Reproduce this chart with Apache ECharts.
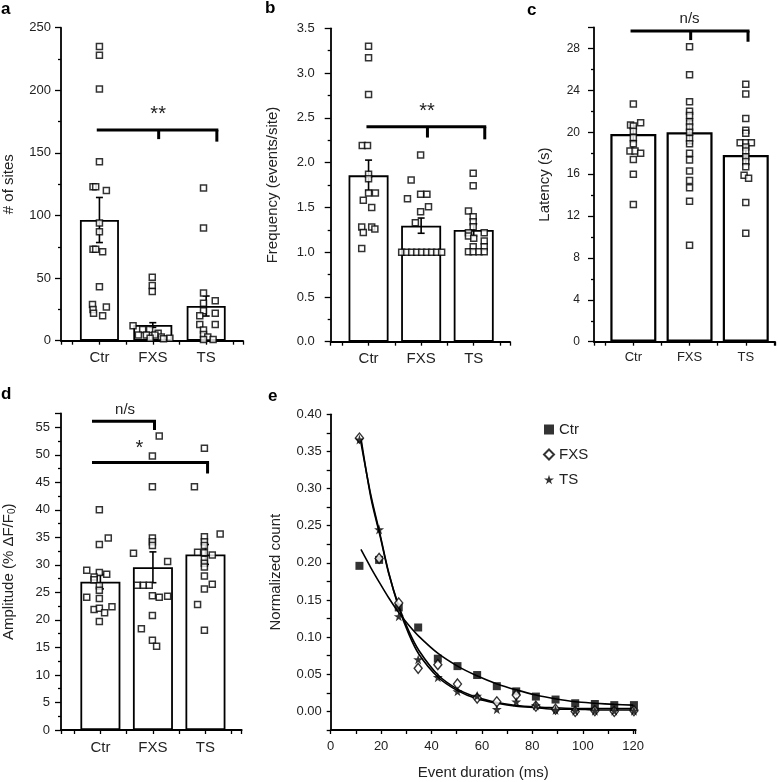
<!DOCTYPE html>
<html><head><meta charset="utf-8">
<script src="https://cdn.jsdelivr.net/npm/echarts/dist/echarts.min.js"></script>
<style>html,body{margin:0;padding:0;background:#fff}#c{width:778px;height:782px}</style>
</head><body><div id="c"></div>
<script>
// ---------- data ----------
const groups = ['Ctr', 'FXS', 'TS'];

// panel a: # of sites
const sitesMean = [96.4, 12.5, 27.7];
const sitesSem = [18, 1.9, 8];
const sitesCtr = [[1,235],[1,228],[1,201],[1,143],[0.88,123],[0.93,123],[1.13,120],[1,94],[1,87],[0.88,73],[0.93,73],[1.06,71],[1,43],[0.87,29],[0.88,25],[1.13,27],[0.89,22],[1.06,20]];
const sitesFxs = [[1.99,50.6],[1.99,44],[1.99,39.2],[1.63,12],[1.81,9],[1.94,9],[2.1,6],[1.73,4.5],[1.88,4.5],[2.04,4.5],[2.16,3],[2.32,2],[1.95,2],[2.2,1.5]];
const sitesTs = [[2.95,122],[2.95,90],[2.95,38],[2.95,30],[3.17,32],[2.95,24],[2.88,20],[3.17,22],[2.88,13],[3.17,13],[2.95,8.5],[2.95,5],[3.03,3],[3.13,1],[2.95,1]];

// panel b: frequency
const freqMean = [1.858, 1.296, 1.247];
const freqSem = [0.17, 0.085, 0.07];
const freqCtr = [[1,3.3],[1,3.17],[1,2.76],[0.88,2.19],[0.98,2.19],[1,1.87],[1,1.82],[1,1.66],[1.13,1.66],[0.9,1.58],[1.06,1.5],[0.87,1.28],[1.06,1.28],[1.12,1.26],[0.9,1.22],[0.87,1.04]];
const freqFxs = [[1.99,2.085],[1.81,1.806],[1.74,1.597],[1.99,1.646],[2.11,1.646],[2.14,1.508],[1.99,1.452],[1.89,1.329],[1.63,1],[1.725,1],[1.82,1],[1.915,1],[2.01,1],[2.105,1],[2.2,1],[2.295,1],[2.39,1]];
const freqTs = [[2.99,1.88],[2.99,1.742],[2.9,1.46],[2.99,1.396],[2.99,1.34],[2.99,1.284],[2.9,1.217],[3.2,1.217],[2.9,1.18],[3.0,1.155],[3.2,1.125],[2.99,1.06],[3.2,1.06],[2.9,1.005],[2.99,1.005],[3.1,1.005],[3.2,1.005]];

// panel c: latency
const latMean = [19.83, 20.0, 17.82];
const latSem = [0.75, 1.1, 0.9];
const latCtr = [[1,22.7],[0.95,20.7],[1.13,20.9],[1,20.6],[1,20.1],[1,19.5],[1,18.9],[0.94,18.2],[1.03,18.2],[1.13,18.0],[1,17.4],[1,16.0],[1,13.1]];
const latFxs = [[2,28.16],[2,25.5],[2,22.9],[2,22.0],[2,21.6],[2,21.0],[2,20.5],[2,20.0],[2,19.4],[2,18.9],[2,18.0],[2,17.35],[2,16.3],[2,15.4],[2,14.7],[2,13.4],[2,9.2]];
const latTs = [[3,24.57],[3,23.65],[3,21.3],[3,20.2],[3,19.9],[2.9,19.0],[3,19.0],[3.1,19.0],[3,18.6],[3,18.2],[3,17.66],[3,17.2],[3,16.7],[2.97,15.9],[3.05,15.6],[3,13.3],[3,10.35]];

// panel d: amplitude
const ampMean = [26.94, 29.56, 31.9];
const ampSem = [1.3, 2.8, 1.8];
const ampCtr = [[0.98,40],[1.15,34.9],[0.98,33.7],[0.74,29],[0.98,28.6],[1.12,28.3],[0.88,27.8],[0.88,27.3],[0.98,26.2],[0.98,25.4],[0.74,24.1],[0.98,23.9],[0.88,21.9],[0.98,22.1],[1.08,21.3],[1.22,22.4],[0.98,19.7]];
const ampFxs = [[2.12,53.4],[1.99,49.8],[1.99,44.2],[1.99,34.9],[1.99,34.2],[1.99,33.5],[1.63,32.1],[2.28,30.6],[1.70,26.3],[1.82,26.3],[1.93,26.3],[1.99,24.4],[2.12,24.1],[2.28,24.3],[1.99,20.8],[1.78,18.4],[1.99,16.3],[2.07,15.2]];
const ampTs = [[2.98,51.2],[2.79,44.2],[3.28,35.6],[2.98,35.1],[2.98,34.2],[2.98,33.5],[2.85,32.3],[2.98,32.2],[3.13,31.8],[2.98,31.0],[2.98,30.3],[2.98,29.6],[2.98,28.0],[3.13,26.5],[2.98,25.6],[2.85,22.8],[2.98,18.1]];

// significance brackets (data units)
const bracketsA = [{y:168.3, from:0.95, to:3.2, drops:[[2.11,161],[3.2,159]], text:'**', tx:2.1, ty:180.5, fs:20}];
const bracketsB = [{y:2.40, from:0.96, to:3.21, drops:[[2.12,2.28],[3.21,2.26]], text:'**', tx:2.11, ty:2.57, fs:20}];
const bracketsC = [{y:29.66, from:0.95, to:3.04, drops:[[2.02,28.8],[3.04,28.64]], text:'n/s', tx:2.0, ty:30.85, fs:15}];
const bracketsD = [
  {y:56.1, from:0.84, to:2.03, drops:[[2.03,54.5]], text:'n/s', tx:1.47, ty:58.2, fs:15},
  {y:48.6, from:0.84, to:3.04, drops:[[3.04,46.6]], text:'*', tx:1.74, ty:51.2, fs:20}
];

// panel e: event duration histogram
const durBins = [11.4,19.2,27,34.7,42.5,50.3,58.1,65.9,73.6,81.4,89.2,97,104.8,112.5,120.3];
const durCtr = [0.196,0.204,0.140,0.113,0.071,0.061,0.049,0.034,0.027,0.020,0.016,0.011,0.010,0.0085,0.0085];
const durFxs = [0.368,0.206,0.146,0.058,0.063,0.037,0.018,0.013,0.022,0.007,0.003,0.000,0.001,0.000,0.001];
const durTs = [0.366,0.245,0.128,0.070,0.046,0.027,0.021,0.003,0.013,0.008,0.002,0.001,0.001,0.001,0.001];
const fitX = [12,16,19.6,23,27,31,35,42.6,50.3,58,66,73.6,81.4,89,97,105,112.5,120];
const fitCtr = [0.218,0.193,0.172,0.153,0.133,0.116,0.101,0.078,0.061,0.048,0.037,0.029,0.022,0.017,0.013,0.011,0.0095,0.0085];
const fitFxs = [0.368,0.287,0.236,0.186,0.142,0.108,0.082,0.049,0.030,0.019,0.012,0.008,0.006,0.005,0.004,0.004,0.004,0.004];
const fitTs = [0.362,0.290,0.238,0.187,0.140,0.104,0.077,0.046,0.028,0.017,0.011,0.007,0.005,0.003,0.003,0.002,0.002,0.002];

// ---------- helpers ----------
const FONT = 'Liberation Sans';
const TXT = '#222';
const AXW = 1.8;
const STAR = 'path://M50,0 L61,35 L98,35 L68,57 L79,91 L50,70 L21,91 L32,57 L2,35 L39,35 Z';

function near(v, step) { const k = v / step; return Math.abs(k - Math.round(k)) < 1e-6; }

function xCat(grid, min, max, fontSize, margin) {
  return {
    type: 'value', gridIndex: grid, min: min, max: max,
    axisLine: {show: true, onZero: false, lineStyle: {color: '#000', width: AXW}},
    axisTick: {show: true, length: 4, lineStyle: {color: '#000', width: 1.3}},
    splitLine: {show: false},
    axisLabel: {fontFamily: FONT, fontSize: fontSize, color: TXT, margin: margin,
      formatter: function (v) { const r = Math.round(v); return (Math.abs(v - r) < 1e-6 && r >= 1 && r <= 3) ? groups[r - 1] : ''; }}
  };
}
function yVal(grid, max, interval, fontSize, margin, name, nameGap, fmt, extra) {
  const o = {
    type: 'value', gridIndex: grid, min: 0, max: max, interval: interval,
    name: name, nameLocation: 'middle', nameGap: nameGap,
    nameTextStyle: {fontFamily: FONT, fontSize: 15, color: TXT},
    axisLine: {show: true, onZero: false, lineStyle: {color: '#000', width: AXW}},
    axisTick: {show: true, length: 6, lineStyle: {color: '#000', width: 1.3}},
    minorTick: {show: true, splitNumber: 2, length: 3, lineStyle: {color: '#000', width: 1.3}},
    splitLine: {show: false},
    axisLabel: {fontFamily: FONT, fontSize: fontSize, color: TXT, margin: margin, formatter: fmt}
  };
  return Object.assign(o, extra || {});
}
function bars(i, means, bw, lw) {
  return {type: 'bar', xAxisIndex: i, yAxisIndex: i, silent: true, z: 1,
    data: means.map(function (m, k) { return [k + 1, m]; }), barWidth: bw,
    itemStyle: {color: '#fff', borderColor: '#000', borderWidth: lw}};
}
function errs(i, means, sems) {
  return {type: 'custom', xAxisIndex: i, yAxisIndex: i, silent: true, z: 2, clip: false,
    data: means.map(function (m, k) { return [k + 1, m, sems[k]]; }),
    renderItem: function (params, api) {
      const x = api.value(0), m = api.value(1), s = api.value(2);
      const t = api.coord([x, m + s]), b = api.coord([x, m - s]);
      const hw = 3.5, st = {stroke: '#000', lineWidth: 1.6};
      return {type: 'group', children: [
        {type: 'line', shape: {x1: t[0], y1: t[1], x2: b[0], y2: b[1]}, style: st},
        {type: 'line', shape: {x1: t[0] - hw, y1: t[1], x2: t[0] + hw, y2: t[1]}, style: st},
        {type: 'line', shape: {x1: b[0] - hw, y1: b[1], x2: b[0] + hw, y2: b[1]}, style: st}
      ]};
    }};
}
function pts(i, data, size) {
  return {type: 'scatter', xAxisIndex: i, yAxisIndex: i, silent: true, z: 3, data: data,
    symbol: 'rect', symbolSize: size || 6,
    itemStyle: {color: '#fff', borderColor: '#000', borderWidth: 1.5}};
}
function brackets(i, list) {
  return {type: 'custom', xAxisIndex: i, yAxisIndex: i, silent: true, z: 5, clip: false,
    data: list.map(function (b, k) { return [k]; }),
    renderItem: function (params, api) {
      const b = list[params.dataIndex];
      const st = {stroke: '#000', lineWidth: 3};
      const l = api.coord([b.from, b.y]), r = api.coord([b.to, b.y]);
      const ch = [{type: 'line', shape: {x1: l[0], y1: l[1], x2: r[0] + 1.5, y2: r[1]}, style: st}];
      b.drops.forEach(function (d) {
        const p = api.coord([d[0], b.y]), q = api.coord([d[0], d[1]]);
        ch.push({type: 'line', shape: {x1: p[0], y1: p[1], x2: q[0], y2: q[1]}, style: st});
      });
      const tp = api.coord([b.tx, b.ty]);
      ch.push({type: 'text', x: tp[0], y: tp[1], style: {text: b.text, fontFamily: FONT, fontSize: b.fs, fill: TXT, align: 'center', verticalAlign: 'middle'}});
      return {type: 'group', children: ch};
    }};
}
function zip(xs, ys) { return xs.map(function (x, k) { return [x, ys[k]]; }); }

// ---------- chart ----------
const chart = echarts.init(document.getElementById('c'), null, {renderer: 'canvas'});
const option = {
  animation: false,
  backgroundColor: '#fff',
  grid: [
    {left: 61, top: 27.7, width: 182, height: 313},
    {left: 330.7, top: 28.3, width: 179.3, height: 313.4},
    {left: 594, top: 27.5, width: 183, height: 314.2},
    {left: 61, top: 413.5, width: 180.7, height: 316.5},
    {left: 330.7, top: 414.3, width: 305, height: 315.7}
  ],
  xAxis: [
    xCat(0, 0.28, 3.69, 15, 10),
    xCat(1, 0.28, 3.69, 15, 10),
    xCat(2, 0.3, 3.52, 13, 9),
    xCat(3, 0.25, 3.69, 15, 10),
    {type: 'value', gridIndex: 4, min: 0, max: 121, interval: 20,
      name: 'Event duration (ms)', nameLocation: 'middle', nameGap: 35,
      nameTextStyle: {fontFamily: FONT, fontSize: 15, color: TXT},
      axisLine: {show: true, onZero: false, lineStyle: {color: '#000', width: AXW}},
      axisTick: {show: true, length: 4, lineStyle: {color: '#000', width: 1.3}},
      minorTick: {show: true, splitNumber: 2, length: 4, lineStyle: {color: '#000', width: 1.3}},
      splitLine: {show: false},
      axisLabel: {fontFamily: FONT, fontSize: 13, color: TXT, margin: 10,
        formatter: function (v) { return near(v, 20) ? String(Math.round(v)) : ''; }}}
  ],
  yAxis: [
    yVal(0, 250, 50, 13, 10, '# of sites', 45, function (v) { return near(v, 50) ? String(Math.round(v)) : ''; }),
    yVal(1, 3.5, 0.5, 13, 16, 'Frequency (events/site)', 50, function (v) { return near(v, 0.5) ? v.toFixed(1) : ''; }),
    yVal(2, 30, 4, 12, 14, 'Latency (s)', 42, function (v) { return near(v, 4) ? String(Math.round(v)) : ''; }),
    yVal(3, 57.5, 5, 13, 11, 'Amplitude (% \u0394F/F{sub|0})', 44, function (v) { return near(v, 5) ? String(Math.round(v)) : ''; },
      {nameTextStyle: {fontFamily: FONT, fontSize: 15, color: TXT,
        rich: {sub: {fontFamily: FONT, fontSize: 10, color: TXT, verticalAlign: 'bottom', padding: [6, 0, 0, 0]}}}}),
    {type: 'value', gridIndex: 4, min: -0.025, max: 0.4, interval: 0.025,
      name: 'Normalized count', nameLocation: 'middle', nameGap: 47,
      nameTextStyle: {fontFamily: FONT, fontSize: 15, color: TXT},
      axisLine: {show: true, onZero: false, lineStyle: {color: '#000', width: AXW}},
      axisTick: {show: true, length: 4, lineStyle: {color: '#000', width: 1.3}},
      splitLine: {show: false},
      axisLabel: {fontFamily: FONT, fontSize: 13, color: TXT, margin: 9,
        formatter: function (v) { return (v > -1e-9 && near(v, 0.05)) ? v.toFixed(2) : ''; }}}
  ],
  legend: {
    orient: 'vertical', left: 543, top: 422, padding: 0, itemGap: 10,
    itemWidth: 10, itemHeight: 10, selectedMode: false,
    textStyle: {fontFamily: FONT, fontSize: 15, color: TXT},
    data: [{name: 'Ctr', icon: 'rect'}, {name: 'FXS', icon: 'diamond'}, {name: 'TS', icon: STAR}]
  },
  graphic: [
    {type: 'text', left: 1, top: 1, style: {text: 'a', font: 'bold 17px Liberation Sans', fill: '#000'}},
    {type: 'text', left: 265, top: 0, style: {text: 'b', font: 'bold 17px Liberation Sans', fill: '#000'}},
    {type: 'text', left: 527, top: 2, style: {text: 'c', font: 'bold 17px Liberation Sans', fill: '#000'}},
    {type: 'text', left: 1, top: 386, style: {text: 'd', font: 'bold 17px Liberation Sans', fill: '#000'}},
    {type: 'text', left: 268, top: 388, style: {text: 'e', font: 'bold 17px Liberation Sans', fill: '#000'}}
  ],
  series: [
    bars(0, sitesMean, 39, 1.8), errs(0, sitesMean, sitesSem),
    pts(0, sitesCtr), pts(0, sitesFxs), pts(0, sitesTs), brackets(0, bracketsA),

    bars(1, freqMean, 40, 1.8), errs(1, freqMean, freqSem),
    pts(1, freqCtr), pts(1, freqFxs), pts(1, freqTs), brackets(1, bracketsB),

    bars(2, latMean, 46, 2.2), errs(2, latMean, latSem),
    pts(2, latCtr), pts(2, latFxs), pts(2, latTs), brackets(2, bracketsC),

    bars(3, ampMean, 40, 1.8), errs(3, ampMean, ampSem),
    pts(3, ampCtr), pts(3, ampFxs), pts(3, ampTs), brackets(3, bracketsD),

    {type: 'line', name: 'Ctr fit', xAxisIndex: 4, yAxisIndex: 4, data: zip(fitX, fitCtr), smooth: 0.3, symbol: 'none', silent: true, lineStyle: {color: '#000', width: 1.6}, z: 2},
    {type: 'line', name: 'FXS fit', xAxisIndex: 4, yAxisIndex: 4, data: zip(fitX, fitFxs), smooth: 0.3, symbol: 'none', silent: true, lineStyle: {color: '#000', width: 1.6}, z: 2},
    {type: 'line', name: 'TS fit', xAxisIndex: 4, yAxisIndex: 4, data: zip(fitX, fitTs), smooth: 0.3, symbol: 'none', silent: true, lineStyle: {color: '#000', width: 1.6}, z: 2},
    {type: 'scatter', name: 'Ctr', xAxisIndex: 4, yAxisIndex: 4, data: zip(durBins, durCtr), symbol: 'rect', symbolSize: 8, silent: true, z: 3,
      itemStyle: {color: '#000', borderColor: '#000', borderWidth: 0}},
    {type: 'scatter', name: 'FXS', xAxisIndex: 4, yAxisIndex: 4, data: zip(durBins, durFxs), symbol: 'diamond', symbolSize: [8, 10], silent: true, z: 4,
      itemStyle: {color: '#fff', borderColor: '#000', borderWidth: 1.4}},
    {type: 'scatter', name: 'TS', xAxisIndex: 4, yAxisIndex: 4, data: zip(durBins, durTs), symbol: STAR, symbolSize: 10, silent: true, z: 5,
      itemStyle: {color: '#000', borderColor: '#000', borderWidth: 0}}
  ]
};
chart.setOption(option);
</script></body></html>
